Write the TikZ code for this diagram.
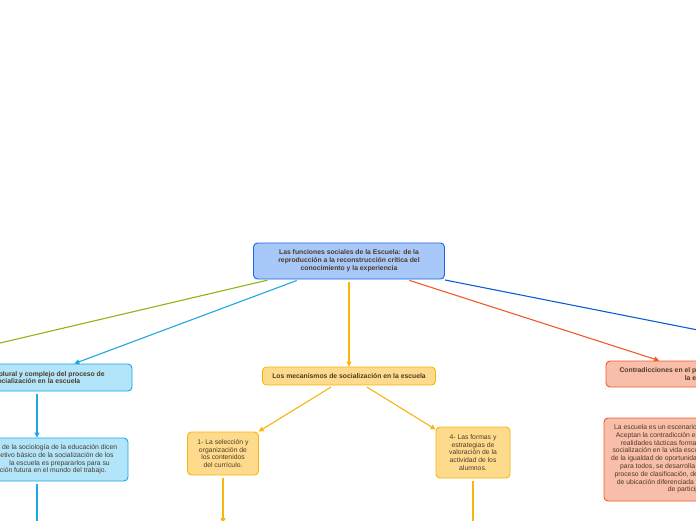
\documentclass[tikz,border=0pt]{standalone}
\usepackage{fontspec}
\setmainfont{Liberation Sans}
\usetikzlibrary{arrows.meta}
\definecolor{txt}{RGB}{77,58,38}
\definecolor{rootfill}{RGB}{168,200,250}
\definecolor{rootline}{RGB}{30,100,230}
\definecolor{cyfill}{RGB}{178,229,250}
\definecolor{cyline}{RGB}{28,168,226}
\definecolor{orfill}{RGB}{254,219,140}
\definecolor{orline}{RGB}{248,182,10}
\definecolor{rdfill}{RGB}{248,190,170}
\definecolor{rdline}{RGB}{240,90,42}
\definecolor{grline}{RGB}{140,182,20}
\definecolor{blline}{RGB}{12,94,214}
\newcommand\fsz{\fontsize{6.8}{7.8}\selectfont}
\newcommand\padr[1]{\hspace*{#1}\mbox{}}
\begin{document}
\begin{tikzpicture}[x=1pt,y=-1pt,
  box/.style={draw, rounded corners=4pt, line width=0.9pt, inner sep=2pt, align=center, text=txt, font=\fsz},
  bbox/.style={box, font=\fsz\bfseries},
  txtnode/.style={inner sep=0pt, text=txt, font=\fsz},
  link/.style={line width=1.1pt, shorten <=3pt},
  conn/.style={link, -{Triangle[length=5pt,width=5pt]}}
]
\useasboundingbox (0,0) rectangle (696,520);
\clip (0,0) rectangle (696,520);

% root
\node[bbox, fill=rootfill, draw=rootline, minimum width=191pt, minimum height=36pt] (root) at (349,261)
  {Las funciones sociales de la Escuela: de la\\reproducción a la reconstrucción crítica del\\conocimiento y la experiencia};

% left (cyan) branch
\node[bbox, fill=cyfill, draw=cyline, minimum width=190pt, minimum height=27pt] (chead) at (37,377.5)
  {Carácter plural y complejo del proceso de\\socialización en la escuela};
\node[box, fill=cyfill, draw=cyline, minimum width=182pt, minimum height=43pt] (cbody) at (37,459.5) {};
\node[txtnode, anchor=north east, align=right] (cbodytxt) at (117.3,444.3)
  {de la sociología de la educación dicen\padr{0pt}\\objetivo básico de la socialización de los\padr{3.6pt}\\la escuela es prepararlos para su\padr{7.3pt}\\incorporación futura en el mundo del trabajo.\padr{10.6pt}};

% middle (orange) branch
\node[bbox, fill=orfill, draw=orline, minimum width=173pt, minimum height=18pt] (mid) at (349,376)
  {Los mecanismos de socialización en la escuela};
\node[box, fill=orfill, draw=orline, minimum width=71pt, minimum height=43pt] (o1) at (223,453.5)
  {1- La selección y\\organización de\\los contenidos\\del currículo.};
\node[box, fill=orfill, draw=orline, minimum width=74pt, minimum height=51pt] (o4) at (473,452.5)
  {4- Las formas y\\estrategias de\\valoración de la\\actividad de los\\alumnos.};

% right (red) branch
\node[bbox, fill=rdfill, draw=rdline, minimum width=190pt, minimum height=26pt] (rhead) at (701,374)
  {Contradicciones en el proceso de socialización en\\la escuela};
\node[box, fill=rdfill, draw=rdline, minimum width=190pt, minimum height=83pt] (rbody) at (699,459.5) {};
\node[txtnode, anchor=north west, align=left] (rbodytxt) at (611,424.3)
  {\hspace*{3pt}La escuela es un escenario\\
   \hspace*{4.7pt}Aceptan la contradicción entre\\
   \hspace*{9.7pt}realidades tácticas forman\\
   \hspace*{1.3pt}socialización en la vida escolar\\
   de la igualdad de oportunidades\\
   \hspace*{9pt}para todos, se desarrolla un\\
   \hspace*{3.3pt}proceso de clasificación, de\\
   \hspace*{5.7pt}de ubicación diferenciada y\\
   \hspace*{56.7pt}de participación};

% free ends
\coordinate (gend) at (-100,366.5);
\coordinate (bend) at (800,350.2);
\coordinate (cend) at (37,545);
\coordinate (o1end) at (223,523);
\coordinate (o4end) at (473,545);

% connectors
\draw[link, grline] (root) -- (gend);
\draw[link, blline] (root) -- (bend);
\draw[conn, cyline] (root) -- (chead);
\draw[conn, orline] (root) -- (mid);
\draw[conn, rdline] (root) -- (rhead);
\draw[conn, cyline] (chead) -- (cbody);
\draw[conn, cyline] (cbody) -- (cend);
\draw[conn, orline] (mid) -- (o1);
\draw[conn, orline] (mid) -- (o4);
\draw[conn, orline] (o1) -- (o1end);
\draw[conn, orline] (o4) -- (o4end);
\end{tikzpicture}
\end{document}
